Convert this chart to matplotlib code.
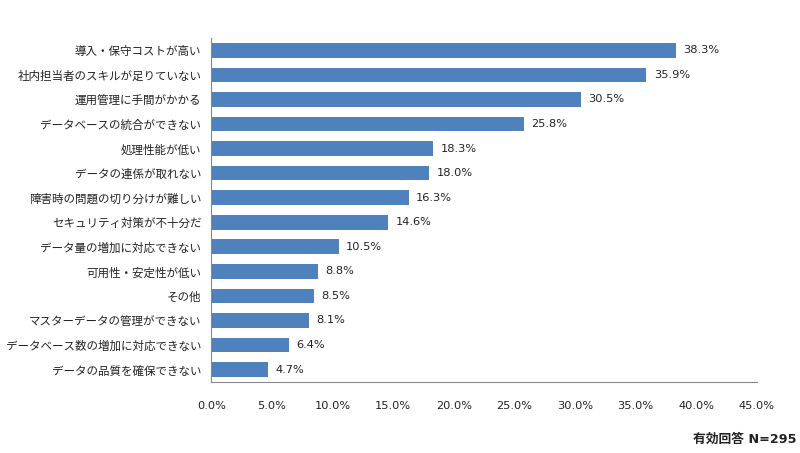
import matplotlib.pyplot as plt

plt.rcParams["font.family"] = ["DejaVu Sans", "Noto Sans CJK JP"]

labels = [
    "導入・保守コストが高い",
    "社内担当者のスキルが足りていない",
    "運用管理に手間がかかる",
    "データベースの統合ができない",
    "処理性能が低い",
    "データの連係が取れない",
    "障害時の問題の切り分けが難しい",
    "セキュリティ対策が不十分だ",
    "データ量の増加に対応できない",
    "可用性・安定性が低い",
    "その他",
    "マスターデータの管理ができない",
    "データベース数の増加に対応できない",
    "データの品質を確保できない",
]
values = [38.3, 35.9, 30.5, 25.8, 18.3, 18.0, 16.3, 14.6, 10.5, 8.8, 8.5, 8.1, 6.4, 4.7]
xticks = [0, 5, 10, 15, 20, 25, 30, 35, 40, 45]

fig = plt.figure(figsize=(8, 4.53), dpi=100)
ax = fig.add_axes([0.264, 0.157, 0.682, 0.759])

pos = list(range(len(labels)))
ax.barh(pos, values, height=0.6, color="#4F81BD")
for p, v in zip(pos, values):
    ax.text(v + 0.6, p, f"{v:.1f}%", va="center", ha="left", fontsize=8.2, color="#222222")

ax.set_yticks(pos)
ax.set_yticklabels(labels, fontsize=8.3, color="#222222")
ax.set_ylim(len(labels) - 0.5, -0.5)
ax.set_xlim(0, 45)
ax.set_xticks(xticks)
ax.set_xticklabels([f"{t:.1f}%" for t in xticks], fontsize=8.2, color="#222222")
ax.tick_params(axis="both", length=0)
ax.tick_params(axis="x", pad=14)
ax.tick_params(axis="y", pad=7)

for s in ["top", "right"]:
    ax.spines[s].set_visible(False)
for s in ["left", "bottom"]:
    ax.spines[s].set_color("#888888")
    ax.spines[s].set_linewidth(0.8)

fig.text(0.996, 0.016, "有効回答 N=295", ha="right", va="bottom", fontsize=9.2, fontweight="bold",
         color="#222222")

fig.savefig("out.png", dpi=100)
